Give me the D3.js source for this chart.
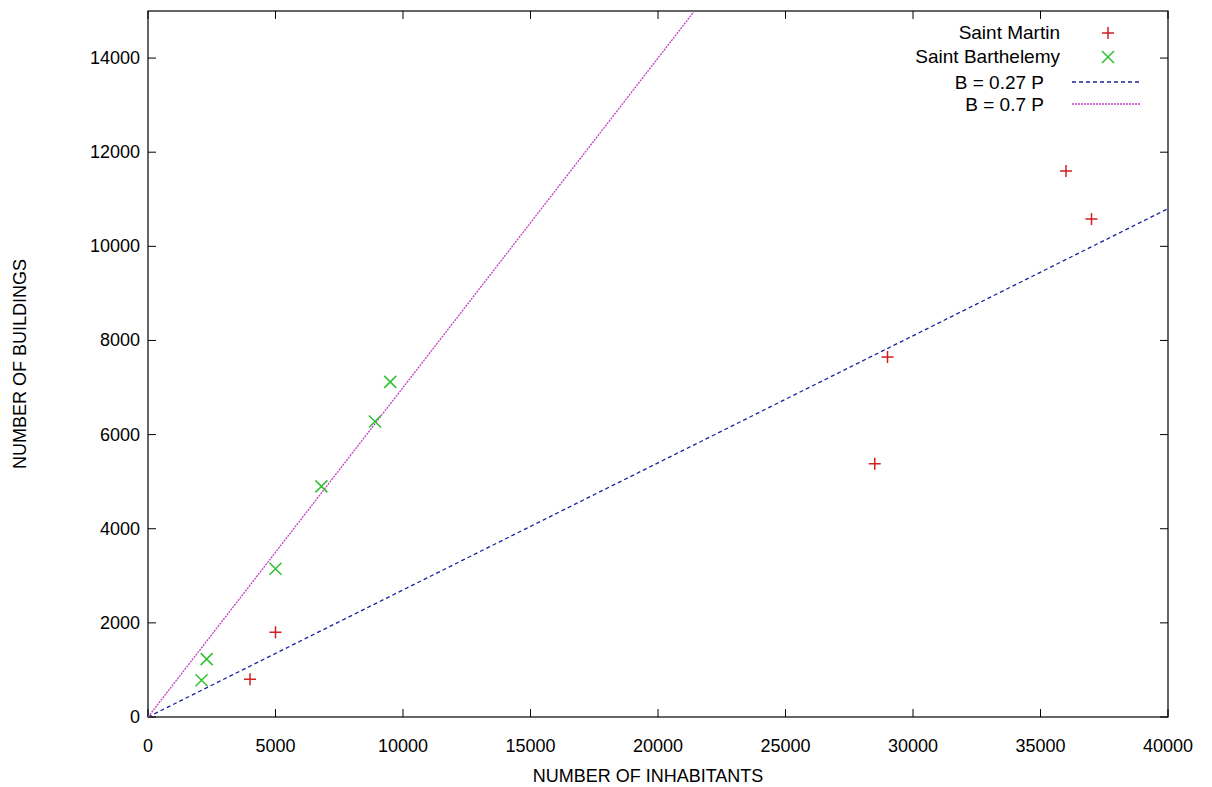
<!DOCTYPE html>
<html><head><meta charset="utf-8">
<script src="https://cdn.jsdelivr.net/npm/d3@7"></script>
<style>body{margin:0;background:#fff}text{font-family:"Liberation Sans",Arial,sans-serif}</style>
</head><body>
<svg id="c" width="1212" height="787"></svg>
<script>
// data
const saintMartin = [[4000,800],[5000,1800],[28500,5380],[29000,7650],[36000,11600],[37000,10580]];
const saintBarth = [[2100,780],[2300,1230],[5000,3150],[6800,4900],[8900,6280],[9500,7120]];
const fits = [{label:"B = 0.27 P", k:0.27, color:"#2020a0", dash:"4,3"},
              {label:"B = 0.7 P", k:0.7, color:"#c040c0", dash:"2,1"}];
const xTicks = d3.range(0, 40001, 5000);
const yTicks = d3.range(0, 14001, 2000);

const svg = d3.select("#c");
const m = {l:148, r:1168, t:11, b:717};
const x = d3.scaleLinear().domain([0,40000]).range([m.l,m.r]);
const y = d3.scaleLinear().domain([0,15000]).range([m.b,m.t]);

const g = svg.append("g");
g.append("defs").append("clipPath").attr("id","clip").append("rect")
  .attr("x",m.l).attr("y",m.t).attr("width",m.r-m.l).attr("height",m.b-m.t);

// inward ticks on all four sides
const tk = 8;
xTicks.forEach(v => {
  g.append("line").attr("x1",x(v)).attr("x2",x(v)).attr("y1",m.b).attr("y2",m.b-tk).attr("stroke","#000");
  g.append("line").attr("x1",x(v)).attr("x2",x(v)).attr("y1",m.t).attr("y2",m.t+tk).attr("stroke","#000");
  g.append("text").attr("x",x(v)).attr("y",m.b+35).attr("text-anchor","middle").attr("font-size",18).text(v);
});
yTicks.forEach(v => {
  g.append("line").attr("x1",m.l).attr("x2",m.l+tk).attr("y1",y(v)).attr("y2",y(v)).attr("stroke","#000");
  g.append("line").attr("x1",m.r).attr("x2",m.r-tk).attr("y1",y(v)).attr("y2",y(v)).attr("stroke","#000");
  g.append("text").attr("x",m.l-8).attr("y",y(v)+6).attr("text-anchor","end").attr("font-size",18).text(v);
});
g.append("rect").attr("x",m.l).attr("y",m.t).attr("width",m.r-m.l).attr("height",m.b-m.t)
  .attr("fill","none").attr("stroke","#000").attr("stroke-width",1.2);

// fit lines
fits.forEach(f => {
  g.append("line").attr("clip-path","url(#clip)")
    .attr("x1",x(0)).attr("y1",y(0)).attr("x2",x(40000)).attr("y2",y(40000*f.k))
    .attr("stroke",f.color).attr("stroke-width",1.3).attr("stroke-dasharray",f.dash);
});

// markers
const s = 6;
saintMartin.forEach(([a,b]) => {
  g.append("path").attr("d",`M${x(a)-s},${y(b)}h${2*s}M${x(a)},${y(b)-s}v${2*s}`)
    .attr("stroke","#d02020").attr("stroke-width",1.5);
});
saintBarth.forEach(([a,b]) => {
  g.append("path").attr("d",`M${x(a)-s},${y(b)-s}l${2*s},${2*s}M${x(a)-s},${y(b)+s}l${2*s},${-2*s}`)
    .attr("stroke","#30c030").attr("stroke-width",1.5);
});

// legend
const lx = 1060, ly = [33,57,82,104];
const lg = g.append("g").attr("font-size",19).attr("text-anchor","end");
lg.append("text").attr("x",lx).attr("y",ly[0]+6).text("Saint Martin");
lg.append("text").attr("x",lx).attr("y",ly[1]+6).text("Saint Barthelemy");
lg.append("path").attr("d",`M${1108-s},${ly[0]}h${2*s}M1108,${ly[0]-s}v${2*s}`).attr("stroke","#d02020").attr("stroke-width",1.5);
lg.append("path").attr("d",`M${1108-s},${ly[1]-s}l${2*s},${2*s}M${1108-s},${ly[1]+s}l${2*s},${-2*s}`).attr("stroke","#30c030").attr("stroke-width",1.5);
fits.forEach((f,i) => {
  lg.append("text").attr("x",1044).attr("y",ly[i+2]+7).attr("font-family","'Open Sans',sans-serif").text(f.label);
  lg.append("line").attr("x1",1072).attr("x2",1140).attr("y1",ly[i+2]).attr("y2",ly[i+2])
    .attr("stroke",f.color).attr("stroke-width",1.3).attr("stroke-dasharray",f.dash);
});

// axis titles
g.append("text").attr("x",(m.l+m.r)/2-10).attr("y",782).attr("text-anchor","middle").attr("font-size",18).text("NUMBER OF INHABITANTS");
g.append("text").attr("transform",`translate(26,${(m.t+m.b)/2}) rotate(-90)`).attr("text-anchor","middle").attr("font-size",18).text("NUMBER OF BUILDINGS");
</script>
</body></html>
